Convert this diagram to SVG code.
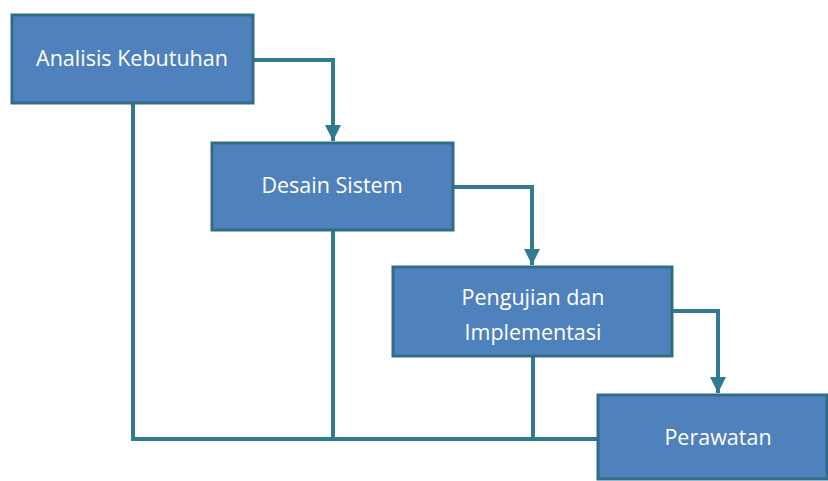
<svg xmlns="http://www.w3.org/2000/svg" width="828" height="481" viewBox="0 0 828 481">
  <style>
    .box { fill: #4F81BD; stroke: #336C87; stroke-width: 3; }
    .label { fill: #FFFFFF; font-family: "Open Sans", "Liberation Sans", Arial, sans-serif; font-size: 21.5px; text-anchor: middle; }
    .wire { fill: none; stroke: #2F7B8F; stroke-width: 4; stroke-linejoin: miter; }
  </style>
  <defs>
    <marker id="arrow" viewBox="0 0 10 10" refX="10" refY="5" markerWidth="4" markerHeight="4.2" orient="auto" markerUnits="strokeWidth">
      <path d="M0,0 L10,5 L0,10 Z" fill="#2F7B8F"/>
    </marker>
  </defs>
  <rect width="828" height="481" fill="#FFFFFF"/>

  <g id="connectors">
    <!-- feedback bus along the bottom -->
    <path class="wire" d="M133,103 V439 H598"/>
    <path class="wire" d="M333,230 V439"/>
    <path class="wire" d="M533,356 V439"/>
    <!-- forward flow -->
    <path class="wire" d="M253,60 H333 V141" marker-end="url(#arrow)"/>
    <path class="wire" d="M453,187 H532 V265" marker-end="url(#arrow)"/>
    <path class="wire" d="M672,311 H718 V393" marker-end="url(#arrow)"/>
  </g>

  <g id="analisis">
    <rect class="box" x="12" y="15" width="241" height="88"/>
    <text class="label" x="132" y="66">Analisis Kebutuhan</text>
  </g>
  <g id="desain">
    <rect class="box" x="212" y="143" width="241" height="87"/>
    <text class="label" x="332" y="193">Desain Sistem</text>
  </g>
  <g id="pengujian">
    <rect class="box" x="393" y="267" width="279" height="89"/>
    <text class="label" x="533" y="305">Pengujian dan</text>
    <text class="label" x="533" y="340">Implementasi</text>
  </g>
  <g id="perawatan">
    <rect class="box" x="598" y="395" width="229" height="84"/>
    <text class="label" x="718" y="445">Perawatan</text>
  </g>
</svg>
